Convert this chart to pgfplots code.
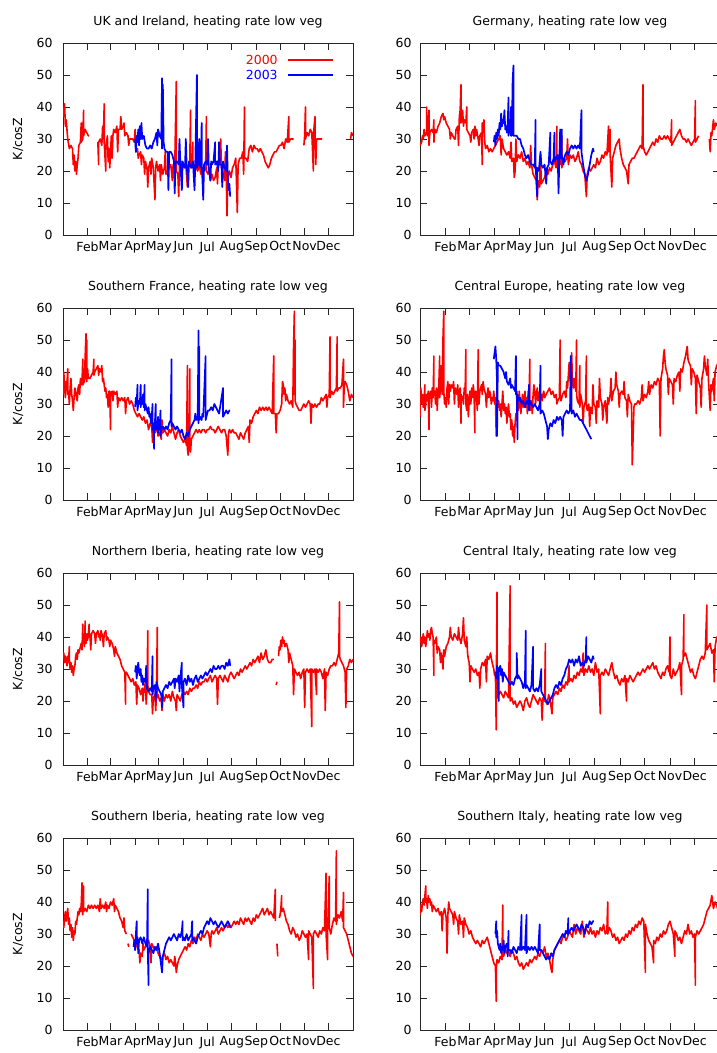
\documentclass[border=0pt]{standalone}
\usepackage{fontspec}
\setmainfont{DejaVu Sans}
\usepackage{pgfplots}
\pgfplotsset{compat=1.18}

\pgfplotsset{
  hr/.style={
    scale only axis, height=192pt,
    xmin=0, xmax=366, ymin=0, ymax=60,
    xtick={31,60,91,121,152,182,213,244,274,305,335},
    xticklabels={Feb,Mar,Apr,May,Jun,Jul,Aug,Sep,Oct,Nov,Dec},
    ytick={0,10,...,60},
    tick align=inside, major tick length=7pt,
    axis line style={line width=0.9pt, black!85},
    every tick/.style={line width=0.9pt, black!85},
    unbounded coords=jump,
    /pgf/number format/assume math mode=true,
    tick label style={font=\fontsize{12.5}{14}\selectfont},
    xticklabel style={yshift=-3pt},
    title style={font=\fontsize{12.5}{14}\selectfont, yshift=5.5pt},
    label style={font=\fontsize{12.5}{14}\selectfont},
    anchor=south west,
  },
  hrL/.style={hr, width=290pt, ylabel={K/cosZ},
    yticklabel style={xshift=-7pt},
    ylabel style={at={(axis description cs:-0.155,0.5)}, anchor=center, rotate=0}},
  hrR/.style={hr, width=300pt, yticklabel style={xshift=-5pt}},
  r00/.style={color=red, line width=1.6pt, line join=round, mark=none},
  b03/.style={color=blue, line width=1.7pt, line join=round, mark=none},
}

\begin{document}
\begin{tikzpicture}

% ---------- UK and Ireland
\begin{axis}[hrL, at={(63pt,-235pt)}, title={UK and Ireland, heating rate low veg}]
\addplot[r00] coordinates {(0,40) (1,37) (2,41) (3,34) (4,36) (6,30) (8,27) (10,28) (12,27) (13,22) (14,25) (15,20) (16,23) (17,19) (18,22) (19,24) (20,28) (22,29) (23,35) (23,29) (25,30) (26,39) (26,31) (28,33) (30,32) (32,31) (33,31) (34,nan)
(44,29) (45,22) (45,29) (47,30) (49,28) (50,34) (51,30) (52,41) (52,29) (54,20) (54,27) (56,31) (57,23) (58,27) (59,21) (60,26) (61,31) (62,24) (63,31) (64,33) (66,32) (68,34) (69,26) (70,33) (72,33) (73,37) (74,33) (76,34) (77,35) (78,31) (80,32) (82,31) (83,28) (84,30) (86,30) (88,30) (90,29) (91,33) (92,26) (94,27) (95,24) (96,25) (98,26) (99,22) (100,25) (102,24) (103,19) (104,23) (106,21) (107,15) (108,21) (110,23) (111,19) (112,24) (114,21) (115,16) (116,11) (117,21) (118,23) (120,20) (122,22) (123,17) (124,22) (126,19) (128,21) (129,26) (130,19) (132,20) (134,21) (136,22) (138,17) (139,22) (141,21) (143,48) (143,20) (145,19) (146,12) (147,22) (149,23) (151,22) (153,21) (155,22) (157,15) (158,22) (160,23) (161,39) (161,21) (163,22) (164,29) (164,22) (166,22) (168,21) (170,20) (172,22) (174,19) (176,21) (178,20) (180,21) (181,37) (181,20) (183,19) (185,21) (186,17) (188,19) (190,17) (192,18) (194,21) (195,16) (196,23) (198,22) (199,30) (200,21) (202,19) (204,17) (205,26) (206,19) (207,6) (208,18) (210,20) (212,18) (214,21) (216,22) (218,24) (219,16) (220,7) (221,22) (223,24) (225,24) (227,26) (228,19) (229,40) (229,24) (231,24) (233,23) (235,27) (237,28) (239,26) (241,28) (243,27) (245,27) (247,26) (249,27) (251,26) (253,25) (255,23) (257,22) (259,21) (261,22) (263,24) (265,25) (267,26) (269,26) (271,27) (273,28) (275,28) (277,29) (279,27) (281,30) (283,29) (285,37) (285,29) (287,30) (289,30) (291,30) (292,nan)
(304,28) (305,31) (306,40) (306,30) (308,32) (310,31) (312,33) (314,32) (316,20) (316,31) (318,37) (318,30) (319,22) (320,30) (322,30) (324,30) (326,30) (327,30) (328,nan)
(363,30) (364,32) (366,31)};
\addplot[b03] coordinates {(91,30) (92,26) (93,31) (94,29) (95,33) (96,28) (97,34) (98,30) (99,35) (100,30) (102,31) (104,28) (106,27) (108,27) (110,28) (112,27) (114,29) (116,30) (118,32) (119,28) (120,33) (122,31) (124,30) (125,49) (125,27) (126,47) (127,29) (128,27) (130,26) (132,26) (133,14) (134,26) (136,26) (138,25) (140,23) (141,13) (142,23) (144,23) (146,22) (147,30) (148,23) (150,14) (151,23) (152,22) (154,21) (155,30) (156,22) (158,15) (159,23) (160,22) (162,21) (164,23) (166,14) (167,23) (169,50) (169,21) (170,22) (172,30) (172,22) (174,21) (175,35) (175,23) (177,11) (178,22) (180,23) (182,22) (183,30) (184,21) (186,17) (187,23) (188,22) (190,23) (192,29) (192,22) (194,23) (196,20) (197,29) (198,22) (200,22) (201,15) (202,23) (204,21) (206,20) (207,28) (208,18) (209,14) (210,16) (211,12)};
% legend
\node[anchor=east, inner sep=0pt, text=red, font=\fontsize{12.5}{14}\selectfont] at (rel axis cs:0.741,0.911) {2000};
\draw[red, line width=1.6pt] (rel axis cs:0.776,0.911) -- (rel axis cs:0.931,0.911);
\node[anchor=east, inner sep=0pt, text=blue, font=\fontsize{12.5}{14}\selectfont] at (rel axis cs:0.741,0.833) {2003};
\draw[blue, line width=1.7pt] (rel axis cs:0.776,0.833) -- (rel axis cs:0.931,0.833);
\end{axis}

% ---------- Germany
\begin{axis}[hrR, at={(420pt,-235pt)}, title={Germany, heating rate low veg}]
\addplot[r00] coordinates {(0,28) (2,29) (3,31) (4,30) (5,33) (6,31) (8,32) (8,40) (9,31) (10,33) (11,39) (11,28) (12,32) (14,33) (16,32) (17,36) (17,29) (18,33) (20,32) (22,34) (24,35) (26,37) (28,38) (29,36) (30,37) (32,35) (34,34) (36,33) (37,30) (38,32) (40,31) (42,30) (43,30) (44,33) (46,34) (47,28) (48,37) (49,39) (50,47) (50,35) (51,36) (52,39) (53,34) (54,36) (56,35) (57,40) (57,33) (59,32) (61,31) (62,29) (63,32) (65,33) (66,30) (67,34) (68,31) (69,33) (71,30) (72,28) (73,31) (75,32) (76,22) (76,35) (77,32) (78,36) (79,29) (80,27) (82,28) (84,26) (86,27) (88,26) (90,27) (92,28) (94,29) (96,30) (98,31) (99,25) (100,30) (102,27) (104,26) (106,25) (108,26) (110,24) (111,29) (112,23) (114,24) (115,18) (116,20) (117,30) (118,23) (120,25) (122,24) (124,26) (126,23) (128,24) (130,22) (132,23) (134,21) (135,28) (136,22) (138,19) (140,18) (142,17) (143,11) (144,17) (146,15) (147,25) (148,16) (150,17) (152,18) (154,20) (156,19) (158,21) (160,20) (162,22) (164,23) (166,21) (167,34) (167,22) (169,24) (171,22) (173,31) (173,21) (175,24) (177,23) (179,24) (180,30) (181,22) (183,25) (185,24) (187,25) (189,23) (191,24) (193,26) (195,23) (197,22) (199,20) (201,19) (203,12) (204,19) (206,21) (208,20) (210,21) (212,22) (214,21) (216,24) (218,22) (220,23) (222,25) (224,24) (226,26) (228,25) (230,34) (230,26) (232,33) (232,25) (234,15) (235,24) (237,26) (239,28) (241,29) (243,30) (244,27) (246,24) (248,22) (250,21) (252,20) (254,16) (255,22) (257,23) (259,24) (261,24) (263,25) (265,26) (267,27) (269,28) (271,27) (272,47) (272,28) (274,26) (276,25) (278,26) (280,27) (282,28) (284,29) (286,28) (288,30) (290,29) (292,31) (294,30) (296,30) (298,31) (300,30) (302,31) (304,30) (306,29) (307,36) (307,28) (309,29) (311,30) (313,31) (315,32) (317,33) (319,31) (321,30) (323,30) (325,29) (327,30) (329,29) (331,28) (333,29) (335,30) (336,42) (336,29) (338,30) (340,31) (341,nan)
(353,30) (354,26) (355,32) (356,31) (358,36) (359,33) (361,35) (363,34) (366,36)};
\addplot[b03] coordinates {(90,29) (91,31) (92,28) (93,32) (94,30) (95,33) (96,31) (97,35) (98,33) (99,38) (100,34) (101,36) (102,35) (103,39) (104,33) (105,34) (106,32) (107,35) (108,43) (108,31) (109,33) (110,32) (111,40) (111,31) (112,31) (113,48) (114,53) (114,31) (116,31) (118,31) (120,30) (122,30) (124,28) (126,27) (128,25) (130,24) (132,25) (134,23) (136,22) (138,22) (140,21) (141,36) (141,22) (143,12) (143,21) (145,20) (147,26) (148,22) (150,21) (152,22) (154,16) (155,21) (157,22) (159,32) (159,23) (161,22) (163,24) (164,32) (164,23) (166,24) (168,25) (169,13) (170,24) (171,33) (172,24) (173,33) (173,25) (175,22) (177,25) (179,26) (181,25) (183,27) (185,28) (187,27) (189,28) (191,27) (193,28) (195,27) (197,39) (197,26) (199,22) (201,19) (203,17) (205,19) (207,22) (209,25) (211,27) (212,26)};
\end{axis}

% ---------- Southern France
\begin{axis}[hrL, at={(63pt,-500pt)}, title={Southern France, heating rate low veg}]
\addplot[r00] coordinates {(0,33) (1,40) (2,35) (3,32) (4,37) (5,36) (6,41) (6,33) (7,34) (8,30) (9,35) (10,38) (11,33) (12,31) (13,28) (14,32) (15,35) (16,34) (17,32) (18,31) (19,35) (20,36) (21,33) (22,38) (23,36) (24,37) (25,44) (25,36) (27,37) (28,45) (29,52) (29,38) (30,50) (30,37) (31,41) (32,38) (34,38) (36,39) (38,40) (39,44) (39,39) (40,40) (42,41) (44,42) (45,39) (46,41) (48,40) (49,42) (50,37) (51,38) (52,36) (53,34) (54,35) (55,32) (56,33) (57,29) (58,34) (59,34) (60,22) (60,33) (62,34) (63,31) (64,34) (66,33) (68,34) (69,29) (70,32) (72,31) (74,32) (76,31) (78,32) (79,27) (80,31) (82,32) (84,30) (86,31) (88,30) (90,28) (92,27) (94,26) (96,27) (98,26) (100,25) (102,26) (104,24) (106,25) (108,22) (110,24) (112,23) (113,18) (114,22) (116,21) (118,23) (120,20) (122,21) (124,19) (125,25) (126,21) (128,22) (130,21) (132,20) (134,22) (136,21) (138,23) (140,21) (142,19) (144,21) (146,22) (148,20) (150,19) (152,18) (154,19) (156,17) (157,42) (157,16) (158,14) (159,18) (160,41) (160,17) (161,15) (162,19) (164,20) (166,21) (168,22) (170,21) (172,22) (174,21) (176,22) (178,22) (180,21) (182,22) (184,22) (186,23) (188,22) (190,22) (192,21) (194,22) (196,23) (198,22) (200,21) (202,22) (204,22) (206,20) (208,14) (209,21) (210,22) (212,21) (214,22) (216,21) (218,21) (220,20) (222,19) (224,21) (226,20) (228,19) (230,21) (232,22) (234,23) (235,18) (236,25) (238,24) (240,26) (242,27) (244,28) (246,27) (248,29) (250,28) (252,29) (254,28) (256,29) (258,28) (260,29) (262,28) (264,27) (266,45) (266,27) (268,27) (269,21) (270,27) (272,27) (274,28) (276,30) (277,37) (278,36) (279,33) (280,35) (281,31) (282,33) (284,31) (286,30) (288,31) (290,29) (291,48) (292,59) (292,33) (293,50) (293,31) (294,30) (296,29) (298,28) (300,28) (302,29) (304,30) (306,29) (308,30) (310,31) (312,30) (313,24) (314,30) (316,29) (318,30) (320,29) (322,30) (324,30) (326,32) (328,31) (330,32) (332,33) (333,29) (334,32) (336,33) (337,51) (337,32) (339,34) (341,33) (343,34) (345,35) (346,51) (346,34) (348,35) (350,35) (352,36) (354,44) (354,29) (355,36) (356,37) (358,36) (360,34) (362,31) (364,33) (366,32)};
\addplot[b03] coordinates {(91,29) (92,32) (93,30) (94,36) (94,28) (95,30) (96,31) (97,30) (98,36) (98,29) (99,31) (100,30) (101,33) (102,29) (103,36) (103,28) (104,30) (105,29) (106,28) (107,27) (108,29) (109,26) (110,27) (111,24) (112,26) (113,30) (113,22) (114,24) (115,16) (115,23) (116,24) (117,30) (117,22) (118,23) (119,22) (120,26) (120,21) (121,23) (122,22) (123,28) (123,20) (124,22) (126,23) (128,22) (130,23) (132,22) (134,24) (136,25) (137,44) (137,23) (138,24) (140,23) (142,22) (144,23) (146,22) (148,21) (150,22) (152,20) (154,19) (156,21) (158,20) (160,22) (162,23) (164,24) (166,25) (167,27) (168,25) (169,26) (170,25) (171,53) (171,24) (172,48) (172,25) (173,26) (175,25) (176,27) (177,26) (180,45) (180,25) (181,26) (183,28) (185,28) (187,29) (189,28) (191,30) (193,29) (195,28) (197,27) (202,35) (202,26) (204,27) (206,28) (208,27) (210,28) (211,28)};
\end{axis}

% ---------- Central Europe
\begin{axis}[hrR, at={(420pt,-500pt)}, title={Central Europe, heating rate low veg}]
\addplot[r00] coordinates {(0,26) (0,32) (1,35) (2,30) (3,33) (4,29) (5,31) (6,36) (6,28) (7,30) (8,33) (9,31) (10,34) (11,22) (11,32) (12,33) (13,34) (14,29) (15,35) (16,32) (17,45) (17,33) (18,34) (19,30) (20,35) (21,28) (22,34) (23,36) (24,45) (24,32) (25,35) (26,42) (27,33) (28,50) (29,59) (29,52) (29,34) (30,30) (31,32) (32,29) (33,35) (34,37) (35,30) (36,36) (37,34) (38,36) (40,35) (41,37) (42,30) (43,35) (44,34) (45,33) (46,36) (47,29) (48,34) (49,35) (50,24) (50,33) (52,32) (53,30) (54,35) (55,33) (56,47) (56,30) (57,28) (58,33) (59,26) (60,31) (61,34) (62,30) (63,35) (64,32) (65,36) (66,33) (67,21) (67,31) (68,34) (69,32) (70,28) (71,47) (71,33) (72,30) (73,34) (74,35) (75,36) (76,33) (77,37) (78,35) (79,34) (80,33) (81,29) (82,33) (83,35) (84,32) (85,34) (86,33) (87,30) (88,32) (89,31) (90,34) (91,30) (92,32) (93,20) (93,30) (94,32) (95,29) (96,31) (97,28) (98,30) (99,26) (100,30) (101,34) (102,28) (103,30) (104,27) (105,29) (106,24) (107,28) (108,30) (109,26) (110,27) (111,22) (112,25) (113,20) (114,23) (115,18) (116,24) (117,27) (118,25) (119,30) (120,28) (121,34) (122,31) (123,27) (124,30) (125,33) (126,29) (127,31) (128,34) (129,29) (130,32) (131,27) (132,34) (133,31) (134,44) (134,30) (135,28) (136,31) (137,27) (138,33) (139,36) (140,34) (141,30) (142,33) (143,35) (144,31) (145,33) (146,34) (147,32) (148,33) (149,31) (150,33) (151,34) (152,32) (154,33) (156,34) (158,35) (160,33) (162,34) (164,32) (166,33) (167,30) (168,31) (170,32) (171,50) (171,33) (172,31) (174,33) (176,34) (178,32) (179,37) (180,35) (182,43) (183,38) (184,36) (185,46) (186,37) (187,35) (188,38) (189,36) (190,34) (191,50) (191,33) (192,31) (194,30) (195,42) (195,29) (196,33) (198,30) (199,24) (200,29) (202,31) (203,45) (203,30) (204,28) (206,30) (207,23) (208,29) (210,27) (211,36) (212,30) (214,29) (215,24) (216,31) (218,29) (219,38) (220,32) (222,30) (223,25) (224,29) (226,31) (228,24) (229,32) (230,30) (232,33) (233,38) (234,31) (236,34) (238,35) (239,40) (240,36) (242,34) (243,29) (244,33) (246,34) (248,33) (249,37) (250,32) (252,31) (253,26) (254,33) (256,31) (258,30) (259,11) (260,20) (261,29) (262,30) (264,30) (266,31) (268,30) (270,32) (271,36) (272,31) (274,33) (276,32) (278,34) (279,37) (280,33) (282,36) (284,35) (286,37) (288,36) (290,38) (292,37) (293,20) (294,38) (296,41) (297,45) (298,47) (299,43) (300,41) (302,39) (303,33) (304,38) (306,37) (308,36) (309,30) (310,38) (312,37) (314,39) (316,40) (317,34) (318,41) (320,40) (322,43) (324,45) (326,48) (327,44) (328,43) (330,42) (331,36) (332,41) (334,40) (336,38) (337,27) (338,39) (340,37) (342,35) (343,29) (344,38) (346,41) (347,45) (348,42) (350,39) (351,44) (352,37) (354,28) (355,36) (356,34) (358,38) (359,31) (360,40) (362,42) (364,43) (366,41)};
\addplot[b03] coordinates {(90,44) (91,46) (92,48) (93,44) (94,37) (94,20) (95,43) (96,42) (98,42) (100,41) (102,40) (104,38) (105,40) (106,37) (108,36) (110,38) (111,35) (112,36) (114,35) (116,34) (117,45) (117,33) (118,34) (119,19) (119,33) (120,31) (122,32) (124,30) (126,31) (128,29) (130,31) (132,30) (133,36) (133,28) (134,31) (136,30) (138,29) (140,30) (142,29) (144,28) (146,30) (147,42) (147,27) (149,28) (151,27) (153,25) (155,23) (156,19) (157,22) (159,24) (161,23) (163,25) (165,24) (167,26) (169,25) (171,26) (173,25) (174,20) (175,26) (177,27) (179,28) (181,27) (183,28) (184,45) (184,30) (185,40) (185,27) (187,28) (189,26) (191,27) (193,26) (195,25) (197,25) (199,24) (201,23) (203,22) (205,21) (207,20) (209,19)};
\end{axis}

% ---------- Northern Iberia
\begin{axis}[hrL, at={(63pt,-765pt)}, title={Northern Iberia, heating rate low veg}]
\addplot[r00] coordinates {(0,33) (1,35) (2,32) (3,34) (4,33) (5,31) (6,34) (7,32) (8,37) (8,33) (9,30) (10,32) (11,29) (12,31) (13,28) (14,30) (15,31) (16,34) (17,35) (18,33) (19,36) (20,35) (22,37) (23,38) (24,36) (25,44) (25,38) (26,39) (27,37) (28,45) (28,40) (29,38) (30,41) (31,39) (32,41) (33,44) (33,40) (34,41) (35,36) (36,41) (38,42) (40,41) (41,38) (42,41) (44,42) (45,40) (46,41) (47,39) (48,42) (50,40) (51,37) (52,41) (54,42) (55,39) (56,40) (58,39) (59,37) (60,39) (62,38) (64,36) (65,34) (66,37) (68,35) (70,34) (72,33) (74,31) (76,30) (78,29) (79,19) (79,28) (80,29) (82,28) (84,27) (86,26) (88,27) (90,25) (92,26) (93,19) (94,25) (96,24) (98,22) (100,24) (101,20) (102,23) (104,26) (105,19) (106,24) (107,42) (107,25) (108,23) (110,22) (112,22) (113,16) (114,21) (116,22) (117,17) (118,22) (119,43) (119,21) (120,22) (122,20) (124,21) (125,17) (126,22) (128,20) (130,22) (132,21) (134,22) (136,20) (138,23) (140,21) (142,20) (143,17) (144,22) (146,21) (148,20) (150,22) (152,23) (154,22) (156,23) (158,22) (160,24) (162,23) (164,24) (166,24) (168,25) (170,24) (172,26) (174,25) (176,26) (178,26) (180,27) (182,26) (184,27) (186,28) (188,26) (190,27) (192,28) (194,27) (195,19) (196,27) (198,28) (200,27) (202,26) (204,28) (206,27) (208,26) (210,28) (212,29) (214,28) (216,27) (218,28) (220,29) (222,28) (224,30) (226,29) (228,30) (230,31) (232,30) (234,31) (236,32) (238,31) (240,33) (242,32) (244,33) (246,34) (248,32) (250,35) (252,33) (254,34) (256,36) (258,33) (260,32) (262,32) (264,33) (266,33) (268,nan) (269,25) (270,26) (271,nan) (272,34) (273,37) (274,36) (275,39) (276,37) (277,40) (278,38) (279,39) (280,37) (282,38) (284,36) (285,32) (286,35) (288,33) (290,31) (291,22) (292,30) (294,29) (296,28) (298,29) (300,27) (302,29) (304,30) (305,18) (306,29) (308,30) (310,29) (312,30) (314,12) (314,30) (316,29) (318,30) (320,22) (320,30) (322,29) (324,30) (326,29) (328,27) (330,30) (331,17) (332,29) (334,28) (336,30) (338,31) (340,31) (342,32) (344,31) (346,33) (348,35) (349,51) (349,34) (350,33) (352,32) (354,31) (356,29) (357,18) (358,30) (360,31) (362,33) (364,32) (366,33)};
\addplot[b03] coordinates {(91,29) (92,31) (93,27) (94,30) (95,32) (96,29) (97,28) (98,30) (99,26) (100,28) (101,25) (102,27) (104,26) (105,31) (106,24) (108,23) (110,24) (112,23) (113,34) (113,22) (114,24) (116,25) (117,20) (118,26) (120,24) (122,23) (124,22) (125,18) (126,23) (128,24) (130,25) (132,24) (134,26) (136,25) (138,26) (140,27) (141,24) (142,27) (144,26) (146,28) (147,23) (148,27) (150,32) (150,25) (152,18) (152,26) (154,27) (156,25) (158,28) (160,26) (162,27) (164,25) (166,27) (168,28) (170,26) (172,27) (174,28) (176,27) (178,28) (180,29) (182,28) (184,29) (186,30) (188,29) (190,31) (192,30) (194,30) (196,31) (198,30) (200,31) (202,31) (204,30) (206,32) (208,31) (210,33) (211,31)};
\end{axis}

% ---------- Central Italy
\begin{axis}[hrR, at={(420pt,-765pt)}, title={Central Italy, heating rate low veg}]
\addplot[r00] coordinates {(0,38) (1,40) (2,37) (3,39) (4,41) (5,38) (6,40) (7,37) (8,39) (9,42) (10,40) (11,41) (12,39) (13,42) (14,43) (15,41) (16,40) (17,28) (17,39) (18,38) (20,40) (21,35) (22,37) (24,36) (25,32) (26,35) (27,33) (28,30) (29,36) (30,34) (32,37) (34,38) (36,40) (37,43) (38,40) (40,39) (42,41) (44,40) (46,39) (47,43) (48,40) (50,38) (52,41) (53,46) (54,39) (56,37) (57,40) (58,35) (59,33) (60,32) (61,26) (62,31) (64,30) (66,29) (68,30) (70,28) (72,29) (73,24) (74,30) (76,32) (78,31) (80,33) (81,26) (82,34) (84,33) (86,35) (88,32) (90,30) (91,28) (92,29) (93,11) (93,22) (94,54) (94,24) (95,21) (96,22) (98,23) (100,22) (102,21) (104,23) (106,22) (108,21) (110,56) (110,20) (112,21) (114,19) (116,20) (118,18) (120,19) (122,20) (124,19) (126,17) (128,20) (130,21) (132,19) (134,18) (136,20) (138,22) (140,21) (142,20) (144,19) (146,21) (148,20) (149,14) (150,21) (152,20) (153,38) (153,20) (155,19) (157,22) (159,20) (161,16) (162,21) (164,22) (166,23) (168,22) (170,24) (172,23) (174,25) (176,24) (178,26) (180,25) (182,31) (182,26) (184,27) (186,26) (188,28) (190,27) (192,29) (194,28) (196,30) (198,29) (199,35) (200,28) (202,30) (204,29) (206,31) (208,29) (210,30) (212,28) (214,32) (216,29) (218,30) (220,16) (220,28) (222,29) (224,28) (226,30) (228,29) (230,28) (232,30) (234,32) (236,29) (238,27) (240,28) (242,26) (244,25) (246,27) (248,26) (250,28) (252,20) (252,27) (254,26) (256,28) (258,27) (260,26) (262,27) (264,28) (266,29) (268,28) (270,29) (272,30) (274,29) (276,30) (278,31) (280,30) (282,31) (284,32) (286,30) (288,31) (290,29) (292,28) (294,27) (296,29) (298,28) (300,30) (302,31) (304,29) (305,40) (305,28) (307,27) (309,30) (311,28) (313,29) (315,30) (317,32) (319,22) (319,31) (321,33) (322,47) (322,34) (324,35) (326,33) (328,31) (330,29) (332,30) (334,28) (336,27) (338,29) (340,31) (342,33) (344,34) (346,33) (348,35) (350,50) (350,36) (352,37) (354,38) (356,35) (358,36) (359,26) (360,37) (362,40) (364,39) (366,40)};
\addplot[b03] coordinates {(92,29) (93,27) (94,31) (95,28) (96,20) (96,30) (98,31) (99,28) (100,30) (101,26) (102,29) (104,28) (106,27) (108,26) (110,25) (112,26) (114,25) (116,27) (118,28) (118,35) (119,27) (120,28) (122,27) (124,26) (126,24) (128,26) (129,42) (129,24) (130,25) (132,24) (134,23) (136,25) (138,37) (138,24) (140,23) (142,24) (144,23) (146,25) (148,30) (148,23) (150,22) (152,21) (154,20) (156,19) (158,20) (160,21) (162,22) (164,24) (166,25) (168,24) (170,26) (172,25) (174,27) (176,28) (178,30) (180,31) (182,33) (184,32) (186,33) (188,31) (190,33) (192,32) (194,34) (196,31) (198,32) (200,31) (202,33) (203,40) (203,32) (205,34) (207,33) (209,32) (211,34) (212,33)};
\end{axis}

% ---------- Southern Iberia
\begin{axis}[hrL, at={(63pt,-1030pt)}, title={Southern Iberia, heating rate low veg}]
\addplot[r00] coordinates {(0,34) (1,32) (2,35) (3,37) (4,34) (5,36) (6,38) (7,33) (8,35) (9,31) (10,33) (11,29) (12,32) (13,28) (14,31) (15,30) (16,34) (17,33) (18,35) (19,37) (20,36) (21,38) (22,37) (23,39) (24,46) (24,38) (25,36) (26,45) (26,37) (28,38) (30,37) (32,39) (34,38) (36,39) (38,38) (40,39) (42,38) (44,39) (46,37) (47,41) (48,38) (50,39) (52,38) (54,40) (55,37) (56,39) (58,38) (60,40) (62,39) (64,41) (65,37) (66,39) (68,38) (70,37) (72,35) (74,34) (76,32) (77,35) (78,31) (80,30) (81,nan) (82,27) (83,26) (84,nan) (86,30) (88,29) (90,28) (91,25) (92,27) (94,26) (96,25) (97,21) (98,24) (100,23) (101,27) (102,25) (104,26) (106,27) (108,28) (110,26) (111,21) (112,27) (114,26) (116,25) (118,26) (120,24) (122,23) (124,22) (126,23) (128,24) (130,22) (132,23) (134,21) (136,22) (138,21) (140,20) (141,23) (142,21) (143,18) (144,20) (146,22) (148,23) (150,24) (152,25) (154,26) (156,25) (158,27) (160,26) (162,28) (164,27) (166,29) (168,28) (170,30) (172,29) (174,28) (176,30) (178,29) (180,30) (182,31) (184,30) (186,26) (187,30) (188,31) (190,30) (192,31) (194,32) (196,30) (198,31) (200,32) (202,31) (204,32) (206,33) (208,32) (210,33) (212,32) (214,33) (216,34) (218,33) (220,34) (222,33) (224,35) (226,34) (228,33) (230,35) (232,34) (234,35) (236,34) (238,33) (240,35) (242,34) (244,36) (246,35) (248,36) (250,37) (252,38) (254,36) (256,37) (258,38) (260,36) (262,37) (264,36) (266,35) (268,44) (268,34) (269,nan) (270,27) (271,23) (272,nan) (273,35) (274,36) (275,38) (276,42) (276,37) (278,38) (280,36) (282,34) (284,33) (286,31) (288,30) (290,32) (292,31) (294,29) (296,30) (298,28) (300,29) (302,31) (304,30) (306,29) (308,30) (310,22) (310,31) (312,30) (314,29) (316,13) (316,30) (318,31) (320,30) (322,29) (324,31) (326,30) (328,32) (330,31) (332,49) (332,30) (334,22) (334,31) (336,48) (336,32) (338,30) (340,33) (342,35) (344,34) (345,56) (345,33) (347,36) (349,35) (351,37) (353,34) (354,43) (354,32) (356,31) (358,30) (360,28) (362,26) (364,24) (366,23)};
\addplot[b03] coordinates {(89,26) (90,28) (91,25) (92,30) (93,34) (93,27) (94,29) (95,24) (96,28) (98,29) (100,27) (102,29) (104,27) (106,26) (107,44) (107,25) (108,14) (108,24) (110,26) (112,25) (114,24) (116,26) (118,25) (120,27) (122,24) (125,18) (126,23) (128,25) (130,27) (132,28) (134,29) (136,28) (138,29) (140,30) (142,29) (144,28) (146,30) (148,29) (150,31) (151,34) (151,28) (152,29) (154,28) (156,30) (158,28) (160,29) (162,30) (163,34) (163,28) (164,29) (166,28) (168,27) (170,29) (172,30) (174,31) (176,30) (178,32) (180,33) (182,34) (184,33) (186,35) (188,34) (190,33) (192,34) (194,33) (196,32) (198,33) (200,34) (202,33) (204,32) (206,33) (208,34) (210,33) (211,32)};
\end{axis}

% ---------- Southern Italy
\begin{axis}[hrR, at={(420pt,-1030pt)}, title={Southern Italy, heating rate low veg}]
\addplot[r00] coordinates {(0,36) (1,39) (2,37) (3,40) (4,41) (5,39) (6,42) (7,45) (7,40) (8,41) (9,38) (10,42) (11,40) (12,41) (13,39) (14,40) (15,37) (16,39) (18,38) (20,37) (22,38) (24,36) (26,37) (27,31) (28,36) (30,38) (32,35) (33,24) (34,36) (35,40) (36,38) (38,37) (40,36) (41,33) (42,37) (44,35) (46,34) (47,30) (48,36) (50,33) (52,34) (53,29) (54,35) (56,33) (58,32) (60,30) (62,31) (64,29) (66,28) (68,27) (70,28) (72,27) (74,26) (76,28) (78,27) (80,28) (82,29) (84,27) (86,25) (88,23) (90,21) (92,20) (93,9) (93,19) (94,22) (96,21) (98,23) (100,22) (101,39) (101,24) (102,23) (104,25) (106,24) (108,25) (110,23) (112,25) (114,24) (116,22) (118,23) (120,21) (122,20) (124,21) (126,19) (128,20) (130,21) (132,20) (134,22) (136,21) (138,22) (140,23) (142,22) (144,24) (146,23) (148,25) (150,24) (152,26) (154,23) (156,24) (158,22) (160,19) (161,18) (162,22) (164,25) (166,26) (168,27) (170,28) (172,27) (174,29) (176,30) (178,28) (180,29) (182,31) (184,30) (186,29) (188,33) (190,30) (192,32) (194,31) (196,30) (198,34) (200,29) (202,32) (204,31) (206,30) (208,32) (210,30) (212,31) (214,29) (216,31) (218,30) (220,32) (222,31) (224,33) (226,30) (228,31) (229,40) (229,30) (231,32) (233,31) (235,29) (237,30) (239,28) (241,29) (243,27) (245,28) (247,29) (249,28) (251,30) (253,29) (255,31) (257,30) (259,32) (261,31) (263,33) (265,32) (267,34) (269,33) (271,35) (273,34) (275,18) (275,33) (277,30) (279,28) (281,27) (283,26) (285,21) (285,28) (287,27) (289,29) (291,28) (293,30) (295,29) (297,31) (299,30) (301,31) (303,33) (305,34) (307,32) (309,30) (311,23) (311,31) (313,30) (315,28) (317,29) (319,27) (321,29) (323,31) (325,30) (327,33) (329,30) (331,31) (333,29) (335,30) (336,14) (336,29) (338,31) (340,30) (342,31) (344,32) (346,33) (348,35) (350,37) (352,38) (354,39) (356,42) (358,38) (360,40) (362,39) (364,37) (366,39)};
\addplot[b03] coordinates {(92,30) (93,34) (93,29) (94,31) (95,27) (96,26) (97,25) (98,27) (99,24) (100,26) (101,25) (102,28) (103,24) (104,26) (106,27) (107,23) (108,31) (108,25) (110,25) (112,24) (114,26) (116,25) (118,24) (120,26) (122,25) (124,36) (124,25) (126,26) (128,25) (130,36) (130,24) (132,26) (134,25) (136,26) (138,25) (140,26) (142,25) (144,24) (146,33) (146,25) (148,25) (150,24) (152,23) (154,22) (156,23) (158,22) (160,24) (162,23) (164,25) (166,26) (168,27) (170,28) (172,29) (174,30) (176,29) (178,31) (180,30) (181,35) (181,30) (183,31) (185,32) (187,31) (189,32) (191,33) (193,32) (195,31) (197,33) (199,32) (201,30) (203,33) (205,32) (207,34) (209,33) (211,34) (212,34)};
\end{axis}

\pgfresetboundingbox
\useasboundingbox (0pt,0pt) rectangle (716pt,-1053pt);
\end{tikzpicture}
\end{document}
